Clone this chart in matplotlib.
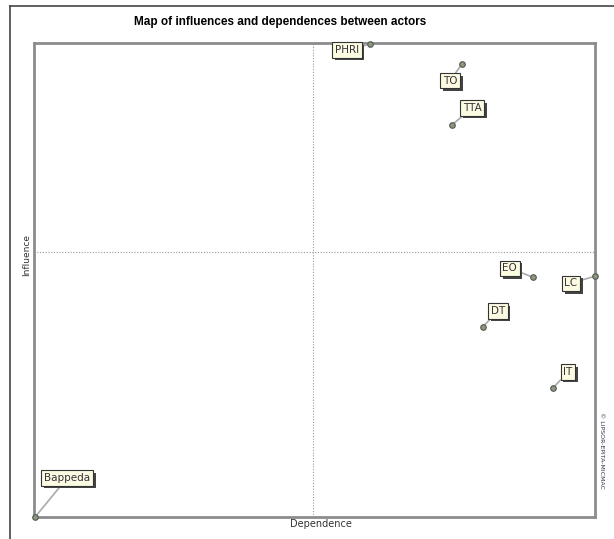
import matplotlib.pyplot as plt
import matplotlib.patheffects as pe
from matplotlib.lines import Line2D

# actors: dependence (x) and influence (y), normalised to the plot frame
actors = ["PHRI", "TO", "TTA", "EO", "LC", "DT", "IT", "Bappeda"]
dependence = [0.599, 0.763, 0.745, 0.889, 1.0, 0.800, 0.925, 0.002]
influence = [0.998, 0.956, 0.827, 0.506, 0.508, 0.401, 0.272, 0.0]
mean_dependence = 0.497
mean_influence = 0.559

# label offsets in pixels (dx, dy)
offsets = [(-23, -6), (-12, -17), (20, 17), (-23, 9), (-24, -7),
           (15, 16), (15, 16), (32, 39)]

fig = plt.figure(figsize=(6.14, 5.39), dpi=100)
ax = fig.add_axes([34 / 614, 22 / 539, 561 / 614, 474 / 539])

ax.set_xlim(0, 1)
ax.set_ylim(0, 1)
ax.set_xticks([])
ax.set_yticks([])
for s in ax.spines.values():
    s.set_color("#8c8c8c")
    s.set_linewidth(2)

ax.axvline(mean_dependence, color="#9a9a9a", ls=(0, (1, 1.5)), lw=0.8)
ax.axhline(mean_influence, color="#9a9a9a", ls=(0, (1, 1.5)), lw=0.8)

for name, x, y, (dx, dy) in zip(actors, dependence, influence, offsets):
    t = ax.annotate(name, (x, y), xytext=(dx, dy), textcoords="offset pixels",
                    ha="center", va="center", fontsize=7.5, color="#3a2f3a",
                    bbox=dict(boxstyle="square,pad=0.25", fc="#fbfbe2", ec="#333333", lw=0.8),
                    arrowprops=dict(arrowstyle="-", color="#aaaaaa", lw=1.2,
                                    shrinkA=0, shrinkB=0),
                    annotation_clip=False, zorder=4)
    t.get_bbox_patch().set_path_effects([
        pe.SimplePatchShadow(offset=(2, -2), shadow_rgbFace="#444444", alpha=1),
        pe.Normal()])
    ax.plot(x, y, "o", ms=4, mfc="#8a9a7a", mec="#555555", mew=0.8,
            clip_on=False, zorder=5)

fig.text(280 / 614, 1 - 22 / 539, "Map of influences and dependences between actors",
         ha="center", va="center", fontsize=8.5, fontweight="bold",
         family="Liberation Sans")
fig.text(321 / 614, 1 - 524 / 539, "Dependence", ha="center", va="center",
         fontsize=7, color="#333333")
fig.text(27 / 614, 1 - 255 / 539, "Influence", ha="center", va="center",
         fontsize=6.5, color="#333333", rotation=90)
fig.text(601 / 614, 1 - 450 / 539, "\u00a9 LIPSOR-EPITA-MICMAC", ha="center",
         va="center", fontsize=4.5, color="#333355", rotation=-90)

# outer frame
fig.add_artist(Line2D([10 / 614, 1], [1 - 6 / 539, 1 - 6 / 539],
                      color="#444444", lw=1.2, transform=fig.transFigure))
fig.add_artist(Line2D([10 / 614, 10 / 614], [0, 1 - 6 / 539],
                      color="#444444", lw=1.2, transform=fig.transFigure))

fig.savefig("out.png", dpi=100)
